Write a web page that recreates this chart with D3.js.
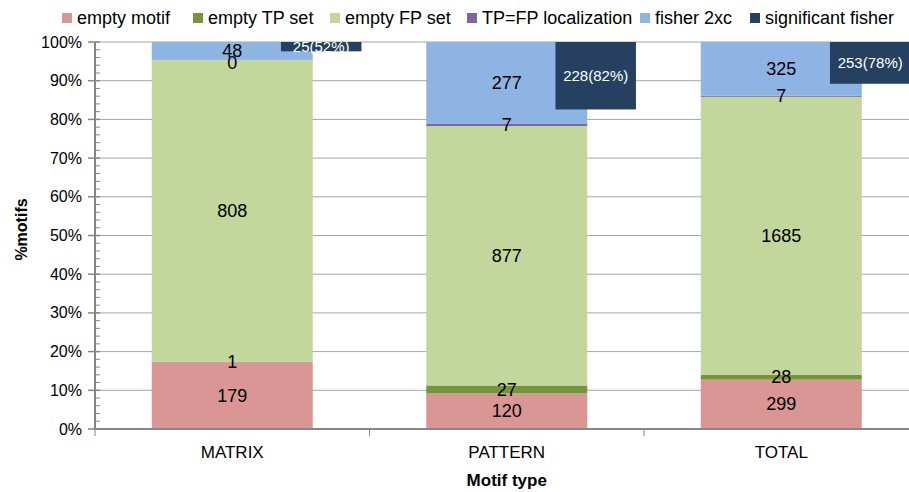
<!DOCTYPE html>
<html>
<head>
<meta charset="utf-8">
<script src="https://cdn.jsdelivr.net/npm/d3@7"></script>
<style>
  html, body { margin: 0; padding: 0; background: #fff; }
  svg { display: block; font-family: "Liberation Sans", Arial, Helvetica, sans-serif; }
</style>
</head>
<body>
<svg id="chart" width="909" height="492"></svg>
<script>
// ---- data ----
const categories = ["MATRIX", "PATTERN", "TOTAL"];
const seriesNames = ["empty motif", "empty TP set", "empty FP set", "TP=FP localization", "fisher 2xc"];
const emptyMotif = [179, 120, 299];
const emptyTPSet = [1, 27, 28];
const emptyFPSet = [808, 877, 1685];
const tpEqFpLocalization = [0, 7, 7];
const fisher2xc = [48, 277, 325];
const significantFisher = [25, 228, 253];
const yTickValues = [0, 0.1, 0.2, 0.3, 0.4, 0.5, 0.6, 0.7, 0.8, 0.9, 1.0];
const legendNames = ["empty motif", "empty TP set", "empty FP set", "TP=FP localization", "fisher 2xc", "significant fisher"];

// ---- styling / layout ----
const colors = {
  "empty motif": "#D99694",
  "empty TP set": "#77933C",
  "empty FP set": "#C3D69B",
  "TP=FP localization": "#8064A2",
  "fisher 2xc": "#8EB4E3",
  "significant fisher": "#254061"
};
const W = 909, H = 492;
const plot = { left: 95, right: 918.5, top: 42, bottom: 429 };
const legendX = [62, 193, 330, 467, 640, 750];

const svg = d3.select("#chart");
svg.append("rect").attr("width", W).attr("height", H).attr("fill", "#fff");

const rows = categories.map((c, i) => ({
  cat: c,
  "empty motif": emptyMotif[i],
  "empty TP set": emptyTPSet[i],
  "empty FP set": emptyFPSet[i],
  "TP=FP localization": tpEqFpLocalization[i],
  "fisher 2xc": fisher2xc[i],
  sig: significantFisher[i],
  total: emptyMotif[i] + emptyTPSet[i] + emptyFPSet[i] + tpEqFpLocalization[i] + fisher2xc[i]
}));

const x = d3.scaleBand().domain(categories).range([plot.left, plot.right])
  .paddingInner(0.4135).paddingOuter(0.2067);
const y = d3.scaleLinear().domain([0, 1]).range([plot.bottom, plot.top]);

// gridlines
svg.append("g").selectAll("line").data(yTickValues.slice(1)).join("line")
  .attr("x1", plot.left).attr("x2", W)
  .attr("y1", d => y(d)).attr("y2", d => y(d))
  .attr("stroke", "#A6A6A6").attr("stroke-width", 1);

// stacked bars
const stack = d3.stack().keys(seriesNames).offset(d3.stackOffsetExpand);
const stacked = stack(rows);

const gBars = svg.append("g");
stacked.forEach(layer => {
  gBars.append("g").selectAll("rect").data(layer).join("rect")
    .attr("x", d => x(d.data.cat))
    .attr("width", x.bandwidth())
    .attr("y", d => y(d[1]))
    .attr("height", d => Math.max(0, y(d[0]) - y(d[1])))
    .attr("fill", colors[layer.key]);
});

// clip for plot area
svg.append("clipPath").attr("id", "plotClip").append("rect")
  .attr("x", plot.left).attr("y", plot.top)
  .attr("width", W - plot.left).attr("height", plot.bottom - plot.top);

// significant fisher boxes
const gSig = svg.append("g").attr("clip-path", "url(#plotClip)");
const boxX = d => x(d.cat) + x.bandwidth() * 0.8025;
const boxW = x.bandwidth() * 0.5;
gSig.selectAll("rect").data(rows).join("rect")
  .attr("x", boxX)
  .attr("width", boxW)
  .attr("y", y(1))
  .attr("height", d => y(1 - d.sig / d.total) - y(1))
  .attr("fill", colors["significant fisher"]);
gSig.selectAll("text").data(rows).join("text")
  .attr("x", d => boxX(d) + boxW / 2)
  .attr("y", d => (y(1) + y(1 - d.sig / d.total)) / 2 - 0.5)
  .attr("text-anchor", "middle")
  .attr("dominant-baseline", "central")
  .attr("font-size", 15)
  .attr("fill", "#fff")
  .text(d => `${d.sig}(${Math.round(d.sig / d['fisher 2xc'] * 100)}%)`);

// segment labels
const gLab = svg.append("g");
stacked.forEach(layer => {
  gLab.append("g").selectAll("text").data(layer).join("text")
    .attr("x", d => x(d.data.cat) + x.bandwidth() / 2)
    .attr("y", d => (y(d[0]) + y(d[1])) / 2 + (d.data[layer.key] === 0 ? 3 : 0))
    .attr("text-anchor", "middle")
    .attr("dominant-baseline", "central")
    .attr("font-size", 18)
    .attr("fill", "#000")
    .text(d => d.data[layer.key]);
});

// y axis
const axisColor = "#868686";
svg.append("line").attr("x1", plot.left).attr("x2", plot.left)
  .attr("y1", plot.top).attr("y2", plot.bottom + 1)
  .attr("stroke", axisColor).attr("stroke-width", 2);
const minorTicks = d3.range(0, 51).map(i => i / 50).filter(v => Math.round(v * 50) % 5 !== 0);
svg.append("g").selectAll("line").data(minorTicks).join("line")
  .attr("x1", plot.left).attr("x2", plot.left + 5)
  .attr("y1", d => y(d)).attr("y2", d => y(d))
  .attr("stroke", axisColor).attr("stroke-width", 1);
svg.append("g").selectAll("line").data(yTickValues).join("line")
  .attr("x1", plot.left - 7).attr("x2", plot.left + 5)
  .attr("y1", d => y(d)).attr("y2", d => y(d))
  .attr("stroke", axisColor).attr("stroke-width", 1.5);
svg.append("g").selectAll("text").data(yTickValues).join("text")
  .attr("x", 82).attr("y", d => y(d))
  .attr("text-anchor", "end")
  .attr("dominant-baseline", "central")
  .attr("font-size", 16)
  .attr("fill", "#000")
  .text(d => d3.format(".0%")(d));

// x axis
svg.append("line").attr("x1", plot.left - 1).attr("x2", W)
  .attr("y1", plot.bottom).attr("y2", plot.bottom)
  .attr("stroke", axisColor).attr("stroke-width", 2);
const catBounds = categories.map(c => x(c) - x.step() * x.paddingOuter());
svg.append("g").selectAll("line").data(catBounds).join("line")
  .attr("x1", d => d).attr("x2", d => d)
  .attr("y1", plot.bottom).attr("y2", plot.bottom + 7)
  .attr("stroke", axisColor).attr("stroke-width", 1);
svg.append("g").selectAll("text").data(categories).join("text")
  .attr("x", d => x(d) + x.bandwidth() / 2)
  .attr("y", 458)
  .attr("text-anchor", "middle")
  .attr("font-size", 17)
  .attr("fill", "#000")
  .text(d => d);

// axis titles
svg.append("text").attr("x", (plot.left + plot.right) / 2).attr("y", 486)
  .attr("text-anchor", "middle").attr("font-size", 17).attr("font-weight", "bold")
  .text("Motif type");
svg.append("text")
  .attr("transform", `translate(27, ${(plot.top + plot.bottom) / 2 - 6}) rotate(-90)`)
  .attr("text-anchor", "middle").attr("font-size", 16).attr("font-weight", "bold")
  .text("%motifs");

// legend
const gLeg = svg.append("g");
legendNames.forEach((name, i) => {
  const g = gLeg.append("g").attr("transform", `translate(${legendX[i]}, 0)`);
  g.append("rect").attr("x", 0).attr("y", 13).attr("width", 10).attr("height", 10)
    .attr("fill", colors[name]);
  g.append("text").attr("x", 15).attr("y", 24).attr("font-size", 18).attr("fill", "#000")
    .text(name);
});
</script>
</body>
</html>
